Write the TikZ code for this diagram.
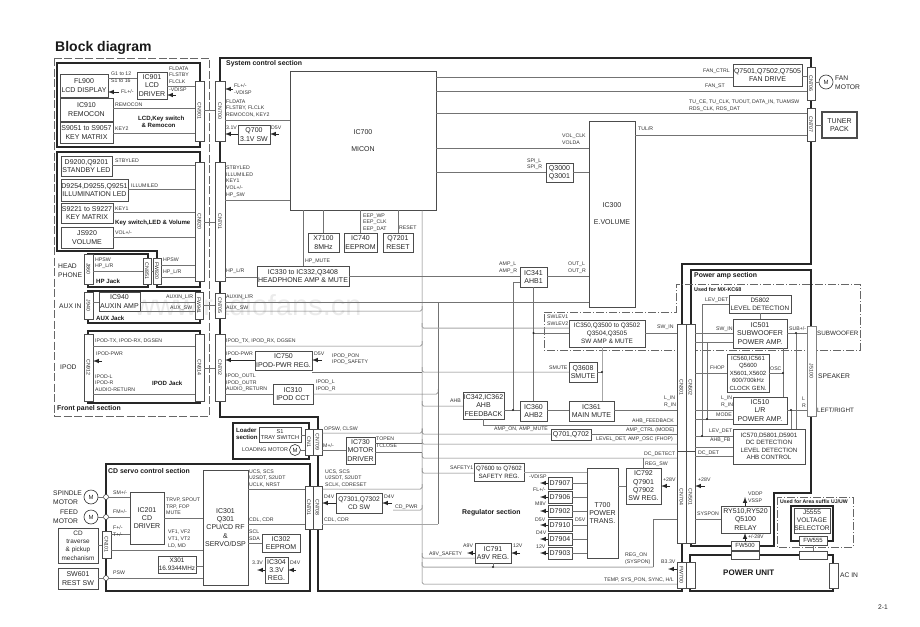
\documentclass[tikz,border=0pt]{standalone}
\usepackage{graphicx}
\usepackage{fontspec}
\setmainfont{Liberation Sans}
\pgfdeclarelayer{bg}
\pgfsetlayers{bg,main}
\tikzset{
  blk/.style={draw=black!70, fill=white, line width=0.8pt, inner sep=0pt, outer sep=0pt, align=center,
    text=black!85, font=\fontsize{7}{8.3}\selectfont},
  sz/.style 2 args={minimum width=#1pt, minimum height=#2pt},
  cnr/.style={blk, line width=0.7pt, font=\fontsize{5.2}{6}\selectfont},
  sig/.style={anchor=west, inner sep=0pt, align=left, text=black!80, font=\fontsize{5.2}{6.6}\selectfont},
  sect/.style={anchor=west, inner sep=0pt, align=left, text=black!90, font=\bfseries\fontsize{6.9}{7.8}\selectfont},
  sectsm/.style={sect, font=\bfseries\fontsize{6.1}{7.2}\selectfont},
  name7/.style={anchor=west, inner sep=0pt, align=left, text=black!85, font=\fontsize{6.7}{8.6}\selectfont},
  wire/.style={draw=black!55, line width=0.5pt},
  wirelt/.style={draw=black!35, line width=1pt},
  hook/.style={rounded corners=1.5pt},
  pwr/.style={-latex, line width=1pt, black!85},
  frame/.style={line width=1.2pt, black!85},
  dashbox/.style={black!60, line width=0.7pt, dash pattern=on 8pt off 2.5pt},
  chainbox/.style={black!60, line width=0.7pt, dash pattern=on 8pt off 2pt on 1pt off 2pt},
  motor/.style={circle, draw=black!80, fill=white, line width=0.6pt, inner sep=0pt, minimum size=14pt, text=black!85,
    font=\fontsize{6}{7}\selectfont},
  pin/.style={circle, draw=black!80, fill=white, line width=0.5pt, inner sep=0pt, minimum size=5pt},
}
\begin{document}
\begin{tikzpicture}[x=1pt, y=-1pt]
  \useasboundingbox (0,0) rectangle (920,626);
  \node[anchor=west, inner sep=0pt, text=black!90, font=\bfseries\fontsize{14}{16}\selectfont] (title) at (55,48) {Block diagram};
  % front panel blocks
  \node[blk, sz={48}{23}] (fl900) at (84,85.5) {FL900\\LCD DISPLAY};
  \node[blk, sz={30}{27}] (ic901) at (152,85.5) {IC901\\LCD\\DRIVER};
  \node[blk, sz={53}{23}] (ic910) at (86.5,109.5) {IC910\\REMOCON};
  \node[blk, sz={53}{21}] (s9051) at (86.5,132.5) {S9051 to S9057\\KEY MATRIX};
  \node[cnr, sz={9}{60}] (cn901) at (199.5,111) {\rotatebox{-90}{CN901}};
  \node[blk, sz={51}{20}] (d9200) at (86.5,166) {D9200,Q9201\\STANDBY LED};
  \node[blk, sz={67}{22}] (d9254) at (94.5,190) {D9254,D9255,Q9251\\ILLUMINATION LED};
  \node[blk, sz={52}{20}] (s9221) at (87,213) {S9221 to S9227\\KEY MATRIX};
  \node[blk, sz={52}{21}] (js920) at (87,237.5) {JS920\\VOLUME};
  \node[cnr, sz={9}{119}] (cn920) at (199.5,221.5) {\rotatebox{-90}{CN920}};
  \node[cnr, sz={9}{30}] (j860) at (88.5,269) {\rotatebox{-90}{J860}};
  \node[cnr, sz={8}{26}] (cn851) at (147,271) {\rotatebox{-90}{CN851}};
  \node[cnr, sz={8}{26}] (fw820) at (157,271) {\rotatebox{-90}{FW820}};
  \node[cnr, sz={9}{27}] (j940) at (88.5,305.5) {\rotatebox{-90}{J940}};
  \node[blk, sz={41}{19}] (ic940) at (119.5,301.5) {IC940\\AUXIN AMP};
  \node[cnr, sz={8}{27}] (fw941) at (199,305.5) {\rotatebox{-90}{FW941}};
  \node[cnr, sz={9}{67}] (cn912) at (88.5,367.5) {\rotatebox{-90}{CN912}};
  \node[cnr, sz={9}{67}] (cn914) at (199.5,367.5) {\rotatebox{-90}{CN914}};
  % system control blocks
  \node[cnr, sz={10}{60}] (cn700) at (220,111) {\rotatebox{-90}{CN700}};
  \node[cnr, sz={10}{119}] (cn701) at (220,221.5) {\rotatebox{-90}{CN701}};
  \node[cnr, sz={10}{25}] (cn705) at (220,305.5) {\rotatebox{-90}{CN705}};
  \node[cnr, sz={10}{67}] (cn702) at (220,367.5) {\rotatebox{-90}{CN702}};
  \node[blk, sz={32}{19}] (q700) at (254,134.5) {Q700\\3.1V SW};
  \node[blk, sz={146}{139}, font=\fontsize{7}{17}\selectfont] (ic700) at (363,140.5) {IC700\\MICON};
  \node[blk, sz={31}{19}] (x7100) at (323.5,242.5) {X7100\\8MHz};
  \node[blk, sz={33}{19}] (ic740) at (360.5,242.5) {IC740\\EEPROM};
  \node[blk, sz={30}{19}] (q7201) at (398,242.5) {Q7201\\RESET};
  \node[blk, sz={92}{20}] (ic330) at (303,276) {IC330 to IC332,Q3408\\HEADPHONE AMP \& MUTE};
  \node[blk, sz={57}{19}] (ic750) at (283.5,360.5) {IC750\\IPOD-PWR REG.};
  \node[blk, sz={40}{20}] (ic310) at (293,394) {IC310\\IPOD CCT};
  \node[blk, sz={46}{186}, font=\fontsize{7}{17}\selectfont] (ic300) at (612,214) {IC300\\E.VOLUME};
  \node[blk, sz={27}{19}] (q3000) at (559.5,172.5) {Q3000\\Q3001};
  \node[blk, sz={27}{20}] (ic341) at (533.5,277) {IC341\\AHB1};
  \node[blk, sz={76}{27}, font=\fontsize{6.4}{8.2}\selectfont] (ic350) at (607,333.5) {IC350,Q3500 to Q3502\\Q3504,Q3505\\SW AMP \& MUTE};
  \node[blk, sz={28}{20}] (q3608) at (583,372) {Q3608\\SMUTE};
  \node[blk, sz={41}{27}] (ic342) at (483.5,405.5) {IC342,IC362\\AHB\\FEEDBACK};
  \node[blk, sz={27}{20}] (ic360) at (533.5,411) {IC360\\AHB2};
  \node[blk, sz={45}{20}] (ic361) at (591.5,411) {IC361\\MAIN MUTE};
  \node[blk, sz={40}{11}] (q701) at (571,434.5) {Q701,Q702};
  \node[blk, sz={69}{22}] (fandrive) at (767.5,75) {Q7501,Q7502,Q7505\\FAN DRIVE};
  \node[cnr, sz={8}{33}] (cn706) at (811,83.5) {\rotatebox{-90}{CN706}};
  \node[cnr, sz={8}{33}] (cn707) at (811,124.5) {\rotatebox{-90}{CN707}};
  \node[blk, sz={35}{26}, line width=1.2pt] (tuner) at (839.5,125) {TUNER\\PACK};
  \node[motor] (mfan) at (826,82) {M};
  % loader and cd servo
  \node[blk, sz={42}{15}, font=\fontsize{5.6}{6.8}\selectfont] (s1) at (280,434.5) {S1\\TRAY SWITCH};
  \node[cnr, sz={8}{26}] (cn1) at (309,442) {\rotatebox{-90}{CN1}};
  \node[cnr, sz={9}{26}] (cn709) at (317.5,442) {\rotatebox{-90}{CN709}};
  \node[motor, minimum size=11pt] (mload) at (295,450) {M};
  \node[blk, sz={29}{27}] (ic730) at (360.5,450.5) {IC730\\MOTOR\\DRIVER};
  \node[blk, sz={34}{52}] (ic201) at (147,518) {IC201\\CD\\DRIVER};
  \node[blk, sz={45}{115}] (ic301) at (225.5,527.5) {IC301\\Q301\\CPU/CD RF\\\&\\SERVO/DSP};
  \node[blk, sz={38}{17}, font=\fontsize{6.4}{7.8}\selectfont] (x301) at (177,564.5) {X301\\16.9344MHz};
  \node[blk, sz={40}{35}, font=\fontsize{6.4}{8.4}\selectfont] (cdtrav) at (78,545.5) {CD\\traverse\\\& pickup\\mechanism};
  \node[blk, sz={40}{21}] (sw601) at (78,578.5) {SW601\\REST SW};
  \node[cnr, sz={9}{27}] (cn101) at (106.5,544.5) {\rotatebox{-90}{CN101}};
  \node[blk, sz={38}{18}] (ic302) at (281,543) {IC302\\EEPROM};
  \node[blk, sz={23}{26}] (ic304) at (276.5,570) {IC304\\3.3V\\REG.};
  \node[cnr, sz={8}{43}] (cnb701) at (309,507.5) {\rotatebox{-90}{CN701}};
  \node[cnr, sz={9}{43}] (cnb708) at (317.5,507.5) {\rotatebox{-90}{CN708}};
  \node[blk, sz={46}{20}, font=\fontsize{6.6}{8.3}\selectfont] (q7301) at (359,503) {Q7301,Q7302\\CD SW};
  \node[motor] (mspin) at (91,497) {M};
  \node[motor] (mfeed) at (91,517) {M};
  \node[pin] (pinsm) at (106,497) {};
  \node[pin] (pinfm) at (106,517) {};
  \node[pin] (pinsw) at (106,578) {};
  % regulator
  \node[blk, sz={50}{18}, font=\fontsize{6.2}{7.8}\selectfont] (q7600) at (499,472) {Q7600 to Q7602\\SAFETY REG.};
  \node[blk, sz={24}{12}] (d7907) at (560,483) {D7907};
  \node[blk, sz={24}{12}] (d7906) at (560,497) {D7906};
  \node[blk, sz={24}{12}] (d7902) at (560,511) {D7902};
  \node[blk, sz={24}{12}] (d7910) at (560,525) {D7910};
  \node[blk, sz={24}{12}] (d7904) at (560,539) {D7904};
  \node[blk, sz={24}{12}] (d7903) at (560,553) {D7903};
  \node[blk, sz={31}{90}] (t700) at (602.5,513) {T700\\POWER\\TRANS.};
  \node[blk, sz={35}{36}] (ic792) at (643.5,486) {IC792\\Q7901\\Q7902\\SW REG.};
  \node[blk, sz={36}{20}] (ic791) at (493,553) {IC791\\A9V REG.};
  % power amp
  \node[blk, sz={62}{18}, font=\fontsize{6.4}{7.8}\selectfont] (d5802) at (760,304) {D5802\\LEVEL DETECTION};
  \node[blk, sz={54}{29}] (ic501) at (760,333.5) {IC501\\SUBWOOFER\\POWER AMP.};
  \node[blk, sz={42}{38}, font=\fontsize{6}{7.5}\selectfont] (ic560) at (748,373) {IC560,IC561\\Q5600\\X5601,X5602\\600/700kHz\\CLOCK GEN.};
  \node[blk, sz={54}{27}] (ic510) at (760,410.5) {IC510\\L/R\\POWER AMP.};
  \node[blk, sz={72}{35}, font=\fontsize{6.2}{7.5}\selectfont] (ic570) at (769,446.5) {IC570,D5801,D5901\\DC DETECTION\\LEVEL DETECTION\\AHB CONTROL};
  \node[cnr, sz={9}{90}, draw=black!50, line width=1pt] (j5100) at (811.5,371) {\rotatebox{-90}{J5100}};
  \node[cnr, sz={9}{127}] (cn301) at (681.5,387.5) {\rotatebox{-90}{CN301}};
  \node[cnr, sz={9}{127}] (cn502) at (690.5,387.5) {\rotatebox{-90}{CN502}};
  \node[cnr, sz={9}{92}] (cn704) at (681.5,497) {\rotatebox{-90}{CN704}};
  \node[cnr, sz={9}{92}] (cn501) at (690.5,497) {\rotatebox{-90}{CN501}};
  \node[cnr, sz={9}{26}] (fw700) at (681.5,575) {\rotatebox{-90}{FW700}};
  \node[cnr, sz={9}{26}] (fw700b) at (690.5,575) {};
  \node[blk, sz={49}{27}] (relay) at (745.5,519.5) {RY510,RY520\\Q5100\\RELAY};
  \node[cnr, sz={28}{9}, font=\fontsize{6}{7}\selectfont] (fw500) at (745,545.5) {FW500};
  \node[cnr, sz={28}{8}] (fw500b) at (745,555) {};
  \node[blk, sz={36}{25}, font=\fontsize{6.6}{7.8}\selectfont] (j5555) at (812,520.5) {J5555\\VOLTAGE\\SELECTOR};
  \node[cnr, sz={28}{9}, font=\fontsize{6}{7}\selectfont] (fw555) at (813,540.5) {FW555};
  \node[cnr, sz={28}{8}] (fw555b) at (813,555) {};
  \node[cnr, sz={9}{25}] (acin) at (833.5,575.5) {};
  % frames stay behind the blocks
  \begin{pgfonlayer}{bg}
    \node[anchor=west, inner sep=0pt, text=black!8, font=\fontsize{29}{30}\selectfont] (wmark) at (134,305) {www.radiofans.cn};
    \draw[dashbox] (54,58) rectangle (209,416);
    \draw[frame] (57,63) rectangle (200,147);
    \draw[frame] (157,251) -- (57,251) -- (57,152) -- (200,152) -- (200,287) -- (157,287) -- cycle;
    \draw[frame] (88,254) rectangle (148,287);
    \draw[frame] (88,291) rectangle (200,323);
    \draw[frame] (88,331) rectangle (200,403);
    \draw[frame] (220,58) -- (811,58) -- (811,264) -- (682,264) -- (682,591) -- (318,591) -- (318,417) -- (220,417) -- cycle;
    \draw[frame] (106,464) rectangle (310,591);
    \draw[frame] (233,423) rectangle (309,459);
    \draw[frame] (691,546) -- (691,270) -- (811,270) -- (811,493) -- (774,493) -- (774,546) -- cycle;
    \draw[frame] (690,555) -- (833,555) -- (833,591) -- (690,591) -- cycle;
    \draw[frame] (791,506) rectangle (833,541);
    \draw[chainbox] (544,312) -- (676,312) -- (676,284) -- (860,284) -- (860,350) -- (544,350) -- cycle;
    \draw[chainbox] (777,497) rectangle (853,547);
  \end{pgfonlayer}
  % bus points and free ends
  \coordinate (busa) at (422,210);
  \coordinate (busb) at (438,302);
  \coordinate (ahbj) at (513,410);
  \coordinate (smj) at (602,372);
  \coordinate (regj) at (653,567);
  \coordinate (levj) at (702,436);
  \coordinate (modej) at (707,419);
  \coordinate (oscj) at (783,373);
  \coordinate (subj) at (796,333);
  \coordinate (lrj) at (791,410);
  \coordinate (cdp) at (393,510);
  \coordinate (fl900in) at (119,92);
  \coordinate (vd901) at (176,95);
  \coordinate (fl700) at (233,89);
  \coordinate (d5q700) at (279,134);
  \coordinate (pwr912) at (102,361);
  \coordinate (d5v750) at (322,360);
  \coordinate (d4q73) at (392,503);
  \coordinate (v33out) at (257,570);
  \coordinate (d4v304) at (296,570);
  \coordinate (vd7907) at (540,483);
  \coordinate (fl7906) at (540,497);
  \coordinate (m87902) at (540,511);
  \coordinate (d57910) at (540,525);
  \coordinate (d47904) at (540,539);
  \coordinate (v127903) at (540,553);
  \coordinate (a9vout) at (467,553);
  \coordinate (v12in) at (520,553);
  \coordinate (v28a) at (670,486);
  \coordinate (v28b) at (705,486);
  \coordinate (b33) at (668,569);
  \coordinate (vddp) at (745,497);
  % front panel wires
  \draw[wire] (fl900.east |- 0,78) -- (ic901.west |- 0,78);
  \draw[wire] (ic901.east |- 0,86) -- (cn901.west |- 0,86);
  \draw[wire] (ic910.east |- 0,108) -- (cn901.west |- 0,108);
  \draw[wire] (s9051.east |- 0,133) -- (cn901.west |- 0,133);
  \draw[wire] (cn901.east |- 0,110) -- (cn700.west |- 0,110);
  \draw[wire] (d9200.east |- 0,165) -- (cn920.west |- 0,165);
  \draw[wire] (d9254.east |- 0,189) -- (cn920.west |- 0,189);
  \draw[wire] (s9221.east |- 0,212) -- (cn920.west |- 0,212);
  \draw[wire] (js920.east |- 0,237) -- (cn920.west |- 0,237);
  \draw[wire] (cn920.east |- 0,222) -- (cn701.west |- 0,222);
  \draw[wire] (j860.east |- 0,271) -- (cn851.west |- 0,271);
  \draw[wire] (cn851.east |- 0,271) -- (fw820.west |- 0,271);
  \draw[wire] (fw820.east |- 0,265) -- (cn920.west |- 0,265);
  \draw[wire] (fw820.east |- 0,277) -- (cn920.west |- 0,277);
  \draw[wire] (j940.east |- 0,302) -- (ic940.west |- 0,302);
  \draw[wire] (ic940.east |- 0,302) -- (fw941.west |- 0,302);
  \draw[wire] (ic940.east |- 0,311) -- (fw941.west |- 0,311);
  \draw[wire] (fw941.east |- 0,305) -- (cn705.west |- 0,305);
  \draw[wire] (cn912.east |- 0,346) -- (cn914.west |- 0,346);
  \draw[wire] (cn912.east |- 0,394) -- (cn914.west |- 0,394);
  \draw[wire] (cn914.east |- 0,368) -- (cn702.west |- 0,368);
  \draw[pwr] (fl900in) -- (fl900.east |- fl900in);
  \draw[pwr] (vd901) -- (ic901.east |- vd901);
  \draw[pwr] (pwr912) -- (cn912.east |- pwr912);
  % system control wires
  \draw[wire] (cn700.east |- 0,120) -- (ic700.west |- 0,120);
  \draw[wire] (cn701.east |- 0,200) -- (ic700.west |- 0,200);
  \draw[pwr] (q700.west |- 0,134) -- (cn700.east |- 0,134);
  \draw[pwr] (d5q700) -- (q700.east |- d5q700);
  \draw[pwr] (fl700) -- (cn700.east |- fl700);
  \draw[wire] (cn701.east |- 0,277) -- (ic330.west |- 0,277);
  \draw[wire] (ic330.north |- ic700.south) -- (ic330.north);
  \draw[wire] (x7100.north |- ic700.south) -- (x7100.north);
  \draw[wire] (ic740.north |- ic700.south) -- (ic740.north);
  \draw[wire] (q7201.north |- ic700.south) -- (q7201.north);
  \draw[wire] (ic330.east |- 0,276) -- (ic341.west |- 0,276);
  \draw[wire] (ic341.east |- 0,276) -- (ic300.west |- 0,276);
  \draw[wire] (ic700.east |- 0,77) -- (fandrive.west |- 0,77);
  \draw[wire] (fandrive.east |- 0,76) -- (cn706.west |- 0,76);
  \draw[wire] (ic700.east |- 0,91) -- (cn706.west |- 0,91);
  \draw[wire] (ic700.east |- 0,113) -- (cn707.west |- 0,113);
  \draw[wire] (ic300.east |- 0,135) -- (cn707.west |- 0,135);
  \draw[wire] (cn706.east |- mfan) -- (mfan.west);
  \draw[wire] (cn707.east |- tuner) -- (tuner.west);
  \draw[wire] (ic700.east |- 0,148) -- (ic300.west |- 0,148);
  \draw[wire] (ic700.east |- 0,172) -- (q3000.west |- 0,172);
  \draw[wire] (q3000.east |- 0,172) -- (ic300.west |- 0,172);
  \draw[wire] (cn705.east |- 0,302) -- (ic300.west |- 0,302);
  \draw[wire, hook] (cn705.east |- 0,311) -- (busa |- 0,311) -- (busa |- 0,306);
  \draw[wire, hook] (cn702.east |- 0,346) -- (busa |- 0,346) -- (busa |- 0,341);
  \draw[pwr] (ic750.west |- 0,360) -- (cn702.east |- 0,360);
  \draw[pwr] (d5v750) -- (ic750.east |- d5v750);
  \draw[wire] (ic750.east |- 0,372) -- (busa |- 0,372);
  \draw[wire] (cn702.east |- 0,394) -- (ic310.west |- 0,394);
  \draw[wire, hook] (ic310.east |- 0,394) -- (busb |- 0,394) -- (busb |- 0,389);
  % the two long buses
  \draw[wire, hook] (busa) -- (busa |- 0,584) -- (fw700.west |- 0,584);
  \draw[wire] (busb) -- (busb |- 0,524);
  \draw[wirelt] (cnb708.east |- 0,524) -- (busb |- 0,524);
  % amp signal wires
  \draw[wirelt, hook] (busa |- 0,323) -- (busa |- 0,328) -- (ic350.west |- 0,328);
  \draw[wire] (ic341.south) -- (ic360.north);
  \draw[wire] (ic341.south |- 0,333) -- (ic350.west |- 0,333);
  \fill[black!85] (ic341.south |- 0,333) circle (1.1pt);
  \draw[wire, hook] (busa |- 0,367) -- (busa |- 0,372) -- (q3608.west |- 0,372);
  \draw[wire, hook] (busa |- 0,401) -- (busa |- 0,406) -- (ic342.west |- 0,406);
  \draw[wire] (ic341.west |- 0,282) -| (ahbj);
  \draw[wire] (ic342.east |- ahbj) -- (ic360.west |- ahbj);
  \fill[black!85] (ahbj) circle (1.1pt);
  \draw[wire] (ic360.east |- ahbj) -- (ic361.west |- ahbj);
  \draw[wire] (ic361.east |- ahbj) -- (cn301.west |- ahbj);
  \draw[wire] (ic350.east |- 0,333) -- (cn301.west |- 0,333);
  \draw[wirelt] (smj |- ic350.south) -- (smj |- ic361.north);
  \draw[wire] (q3608.east |- smj) -- (smj);
  \fill[black!85] (smj) circle (1.1pt);
  \draw[wire] (ic342.south) |- (cn301.west |- 0,425);
  \draw[wire, hook] (busa |- 0,429) -- (busa |- 0,434) -- (q701.west |- 0,434);
  \draw[wire] (q701.east |- 0,434) -- (cn301.west |- 0,434);
  \draw[wire, hook] (busa |- 0,439) -- (busa |- 0,444) -- (cn301.west |- 0,444);
  \draw[wire, hook] (busa |- 0,453) -- (busa |- 0,458) -- (cn704.west |- 0,458);
  \draw[wire] (ic792.north |- 0,458) -- (ic792.north);
  % loader and cd wires
  \draw[wire] (s1.east |- 0,435) -- (cn1.west |- 0,435);
  \draw[wire] (mload.east) -- (cn1.west |- mload);
  \draw[wire, hook] (cn709.east |- 0,433) -- (busa |- 0,433) -- (busa |- 0,428);
  \draw[wire] (cn709.east |- 0,450) -- (ic730.west |- 0,450);
  \draw[wire] (ic730.east |- 0,443) -- (busa |- 0,443);
  \draw[wire] (ic730.east |- 0,452) -- (busa |- 0,452);
  \draw[wire, hook] (cnb708.east |- 0,489) -- (busa |- 0,489) -- (busa |- 0,484);
  \draw[pwr] (q7301.west |- 0,503) -- (cnb708.east |- 0,503);
  \draw[pwr] (d4q73) -- (q7301.east |- d4q73);
  \draw[wire, hook] (cdp) -- (busa |- cdp) -- (busa |- 0,505);
  \draw[wire] (ic301.east |- 0,489) -- (cnb701.west |- 0,489);
  \draw[wire] (ic301.east |- 0,524) -- (cnb701.west |- 0,524);
  \draw[wire] (ic301.east |- 0,543) -- (ic302.west |- 0,543);
  \draw[pwr] (ic304.west |- v33out) -- (v33out);
  \draw[pwr] (d4v304) -- (ic304.east |- d4v304);
  \draw[wire] (mspin.east) -- (pinsm.west);
  \draw[wire] (pinsm.east) -- (ic201.west |- pinsm);
  \draw[wire] (mfeed.east) -- (pinfm.west);
  \draw[wire] (pinfm.east) -- (ic201.west |- pinfm);
  \draw[wire] (cdtrav.east |- 0,545) -- (cn101.west |- 0,545);
  \draw[wire] (cn101.east |- 0,534) -- (ic201.west |- 0,534);
  \draw[wire] (cn101.east |- 0,550) -- (ic301.west |- 0,550);
  \draw[wire] (ic201.east |- 0,518) -- (ic301.west |- 0,518);
  \draw[wire] (x301.east |- 0,566) -- (ic301.west |- 0,566);
  \draw[wire] (sw601.east |- pinsw) -- (pinsw.west);
  \draw[wire] (pinsw.east) -- (ic301.west |- pinsw);
  % regulator wires
  \draw[wire, hook] (busa |- 0,468) -- (busa |- 0,473) -- (q7600.west |- 0,473);
  \draw[wirelt] (q7600.east |- 0,472) -- (t700.west |- 0,472);
  \draw[wire] (d7907.east) -- (t700.west |- d7907);
  \draw[wire] (d7906.east) -- (t700.west |- d7906);
  \draw[wire] (d7902.east) -- (t700.west |- d7902);
  \draw[wire] (d7910.east) -- (t700.west |- d7910);
  \draw[wire] (d7904.east) -- (t700.west |- d7904);
  \draw[wire] (d7903.east) -- (t700.west |- d7903);
  \draw[pwr] (d7907.west) -- (vd7907);
  \draw[pwr] (d7906.west) -- (fl7906);
  \draw[pwr] (d7902.west) -- (m87902);
  \draw[pwr] (d7910.west) -- (d57910);
  \draw[pwr] (d7904.west) -- (d47904);
  \draw[pwr] (d7903.west) -- (v127903);
  \draw[wire] (t700.east |- ic792) -- (ic792.west);
  \draw[pwr] (v28a) -- (ic792.east);
  \draw[pwr] (v28b) -- (cn501.east |- v28b);
  \draw[pwr] (ic791.west) -- (a9vout);
  \draw[pwr] (v12in) -- (ic791.east);
  \draw[wire, hook] (busa |- 0,553) -- (busa |- 0,558) -- (ic791.west |- 0,558);
  \draw[wirelt, hook] (busa |- 0,562) -- (busa |- regj) -- (regj);
  \draw[wire] (regj) |- (cn704.west |- 0,519);
  \draw[wire] (ic791.south) -- (ic791.south |- regj);
  \fill[black!85] (ic791.south |- regj) circle (1.1pt);
  \draw[pwr] (fw700.west |- b33) -- (b33);
  % power amp wires
  \draw[wire] (cn502.east |- 0,333) -- (ic501.west |- 0,333);
  \draw[wire] (cn502.east |- 0,342) -- (ic501.west |- 0,342);
  \draw[wire] (cn502.east |- 0,373) -- (ic560.west |- 0,373);
  \draw[wire] (cn502.east |- lrj) -- (ic510.west |- lrj);
  \draw[wire] (cn502.east |- modej) -- (ic510.west |- modej);
  \draw[wire] (cn502.east |- levj) -- (ic570.west |- levj);
  \draw[wire] (cn502.east |- 0,447) -- (ic570.west |- 0,447);
  \draw[wire] (cn501.east |- 0,456) -- (ic570.west |- 0,456);
  \draw[wire] (d5802.west) -| (levj);
  \fill[black!85] (levj) circle (1.1pt);
  \draw[wire] (modej) -- (modej |- 0,342);
  \fill[black!85] (modej) circle (1.1pt);
  \draw[wire] (d5802.south) -- (ic501.north);
  \draw[wire] (ic501.east |- subj) -- (j5100.west |- subj);
  \draw[wire] (subj) -- (subj |- ic570.north);
  \fill[black!85] (subj) circle (1.1pt);
  \draw[wire] (ic510.east |- lrj) -- (j5100.west |- lrj);
  \draw[wire] (lrj) -- (lrj |- ic570.north);
  \fill[black!85] (lrj) circle (1.1pt);
  \draw[wire] (oscj |- ic501.south) -- (oscj |- ic510.north);
  \draw[wire] (ic560.east |- oscj) -- (oscj);
  \fill[black!85] (oscj) circle (1.1pt);
  \draw[wire] (cn501.east |- relay) -- (relay.west);
  \draw[pwr] (relay.north -| vddp) -- (vddp);
  \draw[pwr] (fw500.north) -- (fw500.north |- relay.south);
  \draw[wire] (fw555.south) -- (fw555b.north);
  % signal names, left side
  \node[sig] (lbg1) at (111,77) {G1 to 12\\S1 to 16};
  \node[sig] (lbfld) at (169,75) {FLDATA\\FLSTBY\\FLCLK};
  \node[sig] (lbvd) at (169,90) {-VDISP};
  \node[sig] (lbfl) at (121,92) {FL+/-};
  \node[sig] (lbrem) at (115,105) {REMOCON};
  \node[sig] (lbk2) at (115,129) {KEY2};
  \node[sectsm] (secl) at (138,121.5) {LCD,Key switch\\\ \ \& Remocon};
  \node[sig] (lbstb) at (115,161) {STBYLED};
  \node[sig] (lbill) at (131,186) {ILLUMILED};
  \node[sig] (lbk1) at (115,209) {KEY1};
  \node[sig] (lbvol) at (115,233) {VOL+/-};
  \node[sectsm] (seck) at (115,223) {Key switch,LED \& Volume};
  \node[sig] (lbhp1) at (95,263) {HPSW\\HP\_L/R};
  \node[sectsm] (sechp) at (96,281) {HP Jack};
  \node[sig] (lbhp2) at (163,260) {HPSW};
  \node[sig] (lbhp3) at (163,272) {HP\_L/R};
  \node[name7] (nhp) at (58,270.5) {HEAD\\PHONE};
  \node[name7] (naux) at (59,306) {AUX IN};
  \node[sig] (lbaux1) at (166,297) {AUXIN\_L/R};
  \node[sig] (lbaux2) at (170,308) {AUX\_SW};
  \node[sectsm] (secaux) at (96,318) {AUX Jack};
  \node[sig] (lbip1) at (95,341) {IPOD-TX, IPOD-RX, DGSEN};
  \node[sig] (lbip2) at (96,354) {IPOD-PWR};
  \node[sig] (lbip3) at (95,383) {IPOD-L\\IPOD-R\\AUDIO-RETURN};
  \node[sectsm] (secip) at (152,383) {IPOD Jack};
  \node[name7] (nipod) at (60,367) {IPOD};
  \node[sect] (secfp) at (57,409) {Front panel section};
  % signal names, system control
  \node[sect] (secsys) at (226,64) {System control section};
  \node[sig] (lb7a) at (234,89) {FL+/-\\-VDISP};
  \node[sig] (lb7b) at (226,108.5) {FLDATA\\FLSTBY, FLCLK\\REMOCON, KEY2};
  \node[sig] (lb31) at (226,128) {3.1V};
  \node[sig] (lbd5a) at (271,128) {D5V};
  \node[sig] (lb71) at (226,181.5) {STBYLED\\ILLUMILED\\KEY1\\VOL+/-\\HP\_SW};
  \node[sig] (lbhp4) at (226,271) {HP\_L/R};
  \node[sig] (lbhpm) at (305,261) {HP\_MUTE};
  \node[sig] (lbeep) at (363,222.5) {EEP\_WP\\EEP\_CLK\\EEP\_DAT};
  \node[sig] (lbrst) at (399,228) {RESET};
  \node[sig] (lbaux3) at (226,297) {AUXIN\_L/R};
  \node[sig] (lbaux4) at (226,308) {AUX\_SW};
  \node[sig] (lbip4) at (226,341) {IPOD\_TX, IPOD\_RX, DGSEN};
  \node[sig] (lbip5) at (226,354) {IPOD-PWR};
  \node[sig] (lbd5b) at (314,354) {D5V};
  \node[sig] (lbpon) at (332,359) {IPOD\_PON\\IPOD\_SAFETY};
  \node[sig] (lbip6) at (226,383) {IPOD\_OUTL\\IPOD\_OUTR\\AUDIO\_RETURN};
  \node[sig] (lbip7) at (316,385.5) {IPOD\_L\\IPOD\_R};
  \node[sig] (lbfan1) at (703,71) {FAN\_CTRL};
  \node[sig] (lbfan2) at (705,86) {FAN\_ST};
  \node[sig] (lbtu) at (689,105.5) {TU\_CE, TU\_CLK, TUOUT, DATA\_IN, TUAMSW\\RDS\_CLK, RDS\_DAT};
  \node[sig] (lbtul) at (638,129) {TUL/R};
  \node[name7] (nfan) at (835,82.5) {FAN\\MOTOR};
  \node[sig] (lbvol2) at (562,139.5) {VOL\_CLK\\VOLDA};
  \node[sig] (lbspi) at (527,164) {SPI\_L\\SPI\_R};
  \node[sig] (lbamp) at (499,267.5) {AMP\_L\\AMP\_R};
  \node[sig] (lbout) at (568,267.5) {OUT\_L\\OUT\_R};
  \node[sig] (lbsw) at (547,320) {SWLEV1\\SWLEV2};
  \node[sig] (lbswin) at (657,327) {SW\_IN};
  \node[sig] (lbsm) at (549,368) {SMUTE};
  \node[sig] (lbahb) at (450,401) {AHB};
  \node[sig] (lblr) at (664,402) {L\_IN\\R\_IN};
  \node[sig] (lbfb) at (632,421) {AHB\_FEEDBACK};
  \node[sig] (lbon) at (494,429) {AMP\_ON, AMP\_MUTE};
  \node[sig] (lbctl) at (626,430) {AMP\_CTRL (MODE)};
  \node[sig] (lbdet) at (596,439) {LEVEL\_DET, AMP\_OSC (FHOP)};
  \node[sig] (lbdc) at (644,454) {DC\_DETECT};
  \node[sig] (lbreg) at (645,464) {REG\_SW};
  % signal names, loader and cd
  \node[sectsm] (secld) at (236,434) {Loader\\section};
  \node[sig, font=\fontsize{5.4}{6.6}\selectfont] (lbload) at (242,450) {LOADING MOTOR};
  \node[sig] (lbop) at (324,429) {OPSW, CLSW};
  \node[sig] (lbmm) at (323,446) {M+/-};
  \node[sig] (lbtop) at (376,442.5) {TOPEN\\TCLOSE};
  \node[sig] (lbucs) at (325,478.5) {UCS, SCS\\U2SDT, S2UDT\\SCLK, CDRESET};
  \node[sig] (lbd4a) at (324,497) {D4V};
  \node[sig] (lbd4b) at (384,497) {D4V};
  \node[sig] (lbcdp) at (395,507) {CD\_PWR};
  \node[sig] (lbcd2) at (324,520) {CDL, CDR};
  \node[sect] (seccd) at (108,471) {CD servo control section};
  \node[name7] (nspin) at (53,497.5) {SPINDLE\\MOTOR};
  \node[name7, align=right] (nfeed) at (53,516.5) {FEED\\MOTOR};
  \node[sig] (lbsm2) at (113,493) {SM+/-};
  \node[sig] (lbfm) at (113,512) {FM+/-};
  \node[sig] (lbft) at (113,531) {F+/-\\T+/-};
  \node[sig] (lbtrv) at (166,506.5) {TRVP, SPOUT\\TRP, FOP\\MUTE};
  \node[sig] (lbvf) at (168,539) {VF1, VF2\\VT1, VT2\\LD, MD};
  \node[sig] (lbpsw) at (113,573) {PSW};
  \node[sig] (lbucl) at (249,478.5) {UCS, SCS\\U2SDT, S2UDT\\UCLK, NRST};
  \node[sig] (lbcd1) at (249,520) {CDL, CDR};
  \node[sig] (lbscl) at (249,535) {SCL\\SDA};
  \node[sig] (lb33) at (252,563) {3.3V};
  \node[sig] (lbd4c) at (290,563) {D4V};
  % signal names, regulator and power
  \node[sig] (lbsaf) at (450,468) {SAFETY1};
  \node[sect] (secreg) at (462,513) {Regulator section};
  \node[sig] (lbvd2) at (529,477) {-VDISP};
  \node[sig] (lbfl2) at (533,490) {FL+/-};
  \node[sig] (lbm8) at (535,504) {M8V};
  \node[sig] (lbd5c) at (535,520) {D5V};
  \node[sig] (lbd4d) at (536,533) {D4V};
  \node[sig] (lb12a) at (536,547) {12V};
  \node[sig] (lbd5d) at (575,520) {D5V};
  \node[sig] (lb28a) at (663,480) {+28V};
  \node[sig] (lba9) at (463,546) {A9V};
  \node[sig] (lb12b) at (513,546) {12V};
  \node[sig] (lba9s) at (429,554) {A9V\_SAFETY};
  \node[sig] (lbreg2) at (625,559) {REG\_ON\\(SYSPON)};
  \node[sig] (lbb33) at (661,562) {B3.3V};
  \node[sig] (lbtemp) at (604,580) {TEMP, SYS\_PON, SYNC, H/L};
  \node[sect] (secamp) at (694,276) {Power amp section};
  \node[sect, font=\bfseries\fontsize{5.4}{6.5}\selectfont] (secmx) at (694,290) {Used for MX-KC68};
  \node[sig] (lblev1) at (705,300) {LEV\_DET};
  \node[sig] (lbsw2) at (716,329) {SW\_IN};
  \node[sig] (lbsub) at (789,329) {SUB+/-};
  \node[sig] (lbfhop) at (710,368) {FHOP};
  \node[sig] (lbosc) at (770,369) {OSC};
  \node[sig] (lblr2) at (721,402) {L\_IN\\R\_IN};
  \node[sig] (lbmod) at (716,415) {MODE};
  \node[sig] (lblr3) at (802,402) {L\\R};
  \node[sig] (lblev2) at (709,431) {LEV\_DET};
  \node[sig] (lbab) at (710,440) {AHB\_FB};
  \node[sig] (lbdc2) at (698,453) {DC\_DET};
  \node[sig] (lb28b) at (698,480) {+28V};
  \node[sig] (lbsys) at (697,514) {SYSPON};
  \node[sig] (lbvdd) at (748,497.5) {VDDP\\VSSP};
  \node[sig] (lb28c) at (748,537) {+/-28V};
  \node[name7, font=\fontsize{6.3}{8}\selectfont] (nsub) at (817,333) {SUBWOOFER};
  \node[name7] (nspk) at (818,376) {SPEAKER};
  \node[name7, font=\fontsize{6.3}{8}\selectfont] (nlr) at (817,410) {LEFT/RIGHT};
  \node[sect, font=\bfseries\fontsize{5.2}{6.5}\selectfont] (secarea) at (780,502) {Used for Area suffix UJ/UW};
  \node[sect, font=\bfseries\fontsize{8}{9}\selectfont] (npow) at (723,573) {POWER UNIT};
  \node[name7] (nac) at (840,575) {AC IN};
  \node[name7] (npage) at (878,607) {2-1};
\end{tikzpicture}
\end{document}
